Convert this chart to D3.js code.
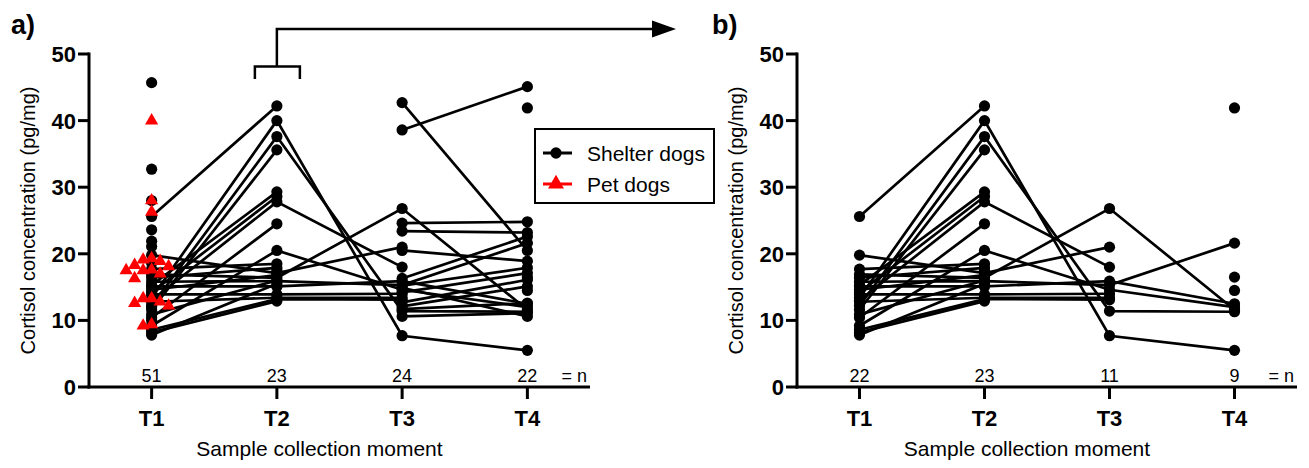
<!DOCTYPE html>
<html>
<head>
<meta charset="utf-8">
<script src="https://cdn.jsdelivr.net/npm/d3@7/dist/d3.min.js"></script>
<style>
body { margin: 0; background: #fff; }
text { font-family: "Liberation Sans", Arial, sans-serif; fill: #000; }
</style>
</head>
<body>
<div class="chart-container"></div>
<script>
var timepoints = ['T1', 'T2', 'T3', 'T4'];
var yTicks = [0, 10, 20, 30, 40, 50];

// shelter dogs, one position per dog, null = no sample at that moment
var shelterT1 = [25.6, 19.8, 13.4, 12.2, 11.6, 15.3, 14.2, 13.0, 10.4, 9.2, 17.7, 16.9, 16.4, 15.8, 15.1, 14.6, 13.9, 12.8, 8.6, 10.9, 8.2, 7.8, null,
                 45.7, 32.7, 28.0, 23.6, 21.9, 21.1, 18.6, 12.0, 10.0, null, null, null, null];
var shelterT2 = [42.2, 17.1, 40.0, 37.6, 35.6, 29.3, 28.6, 27.8, 24.5, 20.5, 18.5, 16.4, 17.9, 15.9, 15.1, 16.8, 13.9, 13.4, 13.2, 16.0, 12.9, 15.5, 17.5,
                 null, null, null, null, null, null, null, null, null, null, null, null, null];
var shelterT3 = [null, 21.0, 7.7, 11.4, null, null, null, 18.0, null, 14.6, null, 26.8, null, 15.3, 15.9, null, 14.0, 13.4, 13.1, null, null, null, null,
                 42.7, 38.6, 24.6, 23.4, 20.5, 16.3, 15.2, 14.9, 14.2, 12.7, 12.1, 11.7, 10.6];
var shelterT4 = [41.9, null, 5.5, 11.3, 16.5, null, null, null, 14.5, 12.0, null, 11.6, null, 21.6, 12.5, null, null, null, null, null, null, null, null,
                 20.5, 45.1, 24.8, 23.2, 18.9, 22.6, 17.9, 10.6, 17.1, 16.1, 15.1, 12.6, 11.1];
// pet dogs, only sampled at T1
var petT1 = [40.0, 28.0, 26.3, 19.3, 19.1, 18.9, 18.3, 18.1, 17.6, 17.5, 17.5, 17.0, 16.3, 13.3, 13.3, 12.8, 12.6, 12.2, 9.4, 9.2];

var legendItems = ['Shelter dogs', 'Pet dogs'];

var width = 1309, height = 468;
var top0 = 54, bottom0 = 387;

var svg = d3.select('.chart-container').append('svg')
	.attr('width', width)
	.attr('height', height);

var y = d3.scaleLinear().domain([0, 50]).range([bottom0, top0]);

var dogs = shelterT1.map(function(v, i) {
	return [v, shelterT2[i], shelterT3[i], shelterT4[i]];
});

function drawPanel(left, right, letter, letterX, dogSet, pets) {
	var g = svg.append('g');
	var x = d3.scalePoint().domain(timepoints).range([left, right]).padding(0.5);

	var line = d3.line()
		.defined(function(d) { return d != null; })
		.x(function(d, i) { return x(timepoints[i]); })
		.y(function(d) { return y(d); });

	g.selectAll('.dog')
		.data(dogSet)
		.enter().append('path')
		.attr('class', 'dog')
		.attr('d', line)
		.attr('fill', 'none')
		.attr('stroke', '#000')
		.attr('stroke-width', 2.7);

	var pts = [];
	dogSet.forEach(function(d) {
		d.forEach(function(v, i) { if (v != null) pts.push({t: timepoints[i], v: v}); });
	});
	g.selectAll('.dot')
		.data(pts)
		.enter().append('circle')
		.attr('class', 'dot')
		.attr('cx', function(d) { return x(d.t); })
		.attr('cy', function(d) { return y(d.v); })
		.attr('r', 5.6)
		.attr('fill', '#000');

	if (pets) {
		// spread overlapping triangles sideways, like a scatter column
		var step = 8.5, placed = [];
		var sorted = pets.slice().sort(function(a, b) { return b - a; });
		sorted.forEach(function(v) {
			var py = y(v);
			for (var k = 0; k < 12; k++) {
				var off = (k === 0) ? 0 : (k % 2 ? -1 : 1) * Math.ceil(k / 2) * step;
				var clash = placed.some(function(p) {
					return Math.abs(p.off - off) < step * 0.9 && Math.abs(p.y - py) < 10;
				});
				if (!clash) { placed.push({off: off, y: py}); break; }
			}
		});
		g.selectAll('.pet')
			.data(placed)
			.enter().append('path')
			.attr('class', 'pet')
			.attr('d', d3.symbol().type(d3.symbolTriangle).size(75))
			.attr('transform', function(d) { return 'translate(' + (x('T1') + d.off) + ',' + d.y + ')'; })
			.attr('fill', '#f00');
	}

	// n per moment
	var counts = timepoints.map(function(t, i) {
		var n = dogSet.filter(function(d) { return d[i] != null; }).length;
		if (i === 0 && pets) n += pets.length;
		return n;
	});
	g.selectAll('.nlab')
		.data(counts)
		.enter().append('text')
		.attr('x', function(d, i) { return x(timepoints[i]); })
		.attr('y', 382)
		.style('text-anchor', 'middle')
		.style('font-size', '18px')
		.text(function(d) { return d; });
	g.append('text')
		.attr('x', right - 3)
		.attr('y', 382)
		.style('text-anchor', 'end')
		.style('font-size', '18px')
		.text('= n');

	// axes
	g.append('line')
		.attr('x1', left).attr('x2', left)
		.attr('y1', top0 - 1.5).attr('y2', bottom0 + 1.5)
		.attr('stroke', '#000').attr('stroke-width', 3);
	g.append('line')
		.attr('x1', left - 1.5).attr('x2', right)
		.attr('y1', bottom0).attr('y2', bottom0)
		.attr('stroke', '#000').attr('stroke-width', 3);

	var yt = g.selectAll('.ytick').data(yTicks).enter().append('g')
		.attr('transform', function(d) { return 'translate(0,' + y(d) + ')'; });
	yt.append('line')
		.attr('x1', left - 11).attr('x2', left)
		.attr('stroke', '#000').attr('stroke-width', 3);
	yt.append('text')
		.attr('x', left - 13)
		.attr('dy', '0.36em')
		.style('text-anchor', 'end')
		.style('font-size', '22px')
		.style('font-weight', 'bold')
		.text(function(d) { return d; });

	var xt = g.selectAll('.xtick').data(timepoints).enter().append('g')
		.attr('transform', function(d) { return 'translate(' + x(d) + ',0)'; });
	xt.append('line')
		.attr('y1', bottom0).attr('y2', bottom0 + 12)
		.attr('stroke', '#000').attr('stroke-width', 3);
	xt.append('text')
		.attr('y', 426)
		.style('text-anchor', 'middle')
		.style('font-size', '22px')
		.style('font-weight', 'bold')
		.text(function(d) { return d; });

	g.append('text')
		.attr('x', (left + right) / 2 - 20)
		.attr('y', 456)
		.style('text-anchor', 'middle')
		.style('font-size', '21px')
		.text('Sample collection moment');

	g.append('text')
		.attr('transform', 'translate(' + (left - 54) + ',' + ((top0 + bottom0) / 2) + ') rotate(-90)')
		.style('text-anchor', 'middle')
		.style('font-size', '20px')
		.text('Cortisol concentration (pg/mg)');

	g.append('text')
		.attr('x', letterX)
		.attr('y', 34)
		.style('font-size', '27px')
		.style('font-weight', 'bold')
		.text(letter);

	return x;
}

var xA = drawPanel(89, 590, 'a)', 11, dogs, petT1);
drawPanel(797, 1297, 'b)', 712, dogs.filter(function(d) { return d[1] != null; }), null);

// bracket over T2 with arrow towards panel b
var bx = xA('T2');
svg.append('path')
	.attr('d', 'M' + (bx - 22) + ',79V66.5H' + (bx + 23) + 'V79M' + bx + ',66.5V29H655')
	.attr('fill', 'none')
	.attr('stroke', '#000')
	.attr('stroke-width', 2.5);
svg.append('path')
	.attr('d', 'M652,20.5L676,29L652,37.5Z')
	.attr('fill', '#000');

// legend
var lg = svg.append('g').attr('transform', 'translate(535,129)');
lg.append('rect')
	.attr('width', 179).attr('height', 74)
	.attr('fill', '#fff').attr('stroke', '#000').attr('stroke-width', 2);
var li = lg.selectAll('.legend').data(legendItems).enter().append('g')
	.attr('class', 'legend')
	.attr('transform', function(d, i) { return 'translate(0,' + (24 + i * 31) + ')'; });
li.append('line')
	.attr('x1', 8).attr('x2', 37)
	.attr('stroke', function(d, i) { return i ? '#f00' : '#000'; })
	.attr('stroke-width', 3);
li.append('path')
	.attr('d', function(d, i) {
		return d3.symbol().type(i ? d3.symbolTriangle : d3.symbolCircle).size(i ? 110 : 100)();
	})
	.attr('transform', 'translate(21,0)')
	.attr('fill', function(d, i) { return i ? '#f00' : '#000'; });
li.append('text')
	.attr('x', 52)
	.attr('dy', '0.36em')
	.style('font-size', '21px')
	.text(function(d) { return d; });
</script>
</body>
</html>
